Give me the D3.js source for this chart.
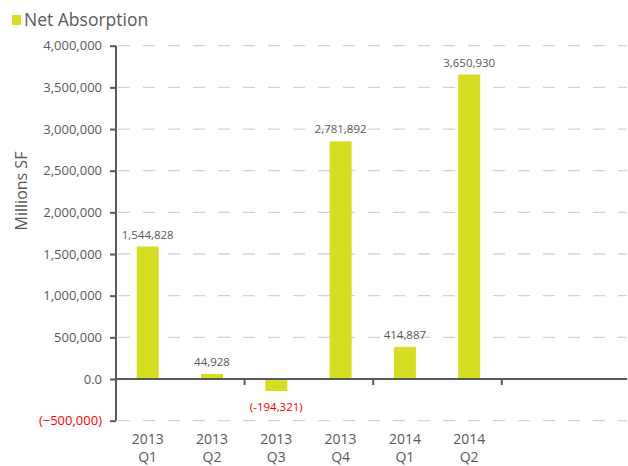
<!DOCTYPE html>
<html>
<head>
<meta charset="utf-8">
<script src="https://cdn.jsdelivr.net/npm/d3@7"></script>
<style>
  body { margin: 0; background: #fff; }
  text { font-family: "Open Sans", sans-serif; }
</style>
</head>
<body>
<svg id="chart" width="628" height="466"></svg>
<script>
// categories, including the two empty slots at the right end of the axis
const quarters = ['2013 Q1', '2013 Q2', '2013 Q3', '2013 Q4', '2014 Q1', '2014 Q2', '', ' '];
// bar heights as drawn, and the labels printed above them
const barValues = [1590000, 60000, -144000, 2852000, 385000, 3654000];
const barLabels = ['1,544,828', '44,928', '(-194,321)', '2,781,892', '414,887', '3,650,930'];
const yTicks = [-500000, 0, 500000, 1000000, 1500000, 2000000, 2500000, 3000000, 3500000, 4000000];
const seriesName = 'Net Absorption';

const svg = d3.select('#chart');
const plotLeft = 116, plotRight = 629.5, plotTop = 45.7, zeroY = 379;
const grey = '#595959', barColor = '#d5de22';

const x = d3.scaleBand().domain(quarters).range([plotLeft, plotRight]).paddingInner(0.658).paddingOuter(0.322);
const y = d3.scaleLinear().domain([-500000, 4000000]).range([zeroY + (zeroY - plotTop) / 8, plotTop]);

const fmt = d3.format(',');
const tickText = (v) => v === 0 ? '0.0' : v < 0 ? `(${fmt(v)})` : fmt(v);

// grid lines
svg.append('g')
  .selectAll('line')
  .data(yTicks.filter((v) => v !== 0))
  .join('line')
  .attr('x1', plotLeft + 2).attr('x2', 627)
  .attr('y1', (v) => y(v)).attr('y2', (v) => y(v))
  .attr('stroke', '#d3d3d3').attr('stroke-width', 1.3)
  .attr('stroke-dasharray', '12,13');

// y axis
const yAxis = svg.append('g')
  .attr('transform', `translate(${plotLeft},0)`)
  .call(d3.axisLeft(y).tickValues(yTicks).tickFormat(tickText).tickSize(6).tickPadding(8));
yAxis.select('.domain').attr('stroke', grey).attr('stroke-width', 2).attr('d', `M0,${y(4000000)}V${y(-500000)}`);
yAxis.selectAll('.tick line').attr('stroke', grey).attr('stroke-width', 2);
yAxis.selectAll('.tick text')
  .attr('fill', (v) => v < 0 ? '#ff0000' : grey)
  .style('font-size', '13px');

// bars
svg.append('g')
  .selectAll('rect')
  .data(barValues)
  .join('rect')
  .attr('x', (v, i) => x(quarters[i]))
  .attr('width', x.bandwidth())
  .attr('y', (v) => y(Math.max(0, v)))
  .attr('height', (v) => Math.abs(y(v) - y(0)))
  .attr('fill', barColor);

// value labels
svg.append('g')
  .selectAll('text')
  .data(barValues)
  .join('text')
  .attr('x', (v, i) => x(quarters[i]) + x.bandwidth() / 2)
  .attr('y', (v) => v < 0 ? y(v) + 20 : y(v) - 8)
  .attr('text-anchor', 'middle')
  .attr('fill', (v) => v < 0 ? '#ff0000' : grey)
  .style('font-size', '11.5px')
  .text((v, i) => barLabels[i]);

// x axis along zero
const step = x.step();
svg.append('line')
  .attr('x1', plotLeft).attr('x2', 627)
  .attr('y1', y(0)).attr('y2', y(0))
  .attr('stroke', grey).attr('stroke-width', 2);
svg.append('g')
  .selectAll('line')
  .data([2, 4, 6])
  .join('line')
  .attr('x1', (k) => plotLeft + k * step).attr('x2', (k) => plotLeft + k * step)
  .attr('y1', y(0)).attr('y2', y(0) + 6)
  .attr('stroke', grey).attr('stroke-width', 2);

// category labels, two lines each
const cats = svg.append('g')
  .selectAll('text')
  .data(quarters.filter((q) => q.trim()))
  .join('text')
  .attr('x', (q) => x(q) + x.bandwidth() / 2)
  .attr('y', 444)
  .attr('text-anchor', 'middle')
  .attr('fill', grey)
  .style('font-size', '14px');
cats.append('tspan').attr('x', (q) => x(q) + x.bandwidth() / 2).text((q) => q.split(' ')[0]);
cats.append('tspan').attr('x', (q) => x(q) + x.bandwidth() / 2).attr('dy', 18).text((q) => q.split(' ')[1]);

// y title
svg.append('text')
  .attr('transform', 'translate(27,191) rotate(-90)')
  .attr('text-anchor', 'middle')
  .attr('fill', grey)
  .style('font-size', '16px')
  .text('Millions SF');

// legend
svg.append('rect').attr('x', 12).attr('y', 15).attr('width', 9).attr('height', 10).attr('fill', barColor);
svg.append('text')
  .attr('x', 24).attr('y', 26)
  .attr('fill', grey)
  .style('font-size', '17.5px')
  .text(seriesName);
</script>
</body>
</html>
